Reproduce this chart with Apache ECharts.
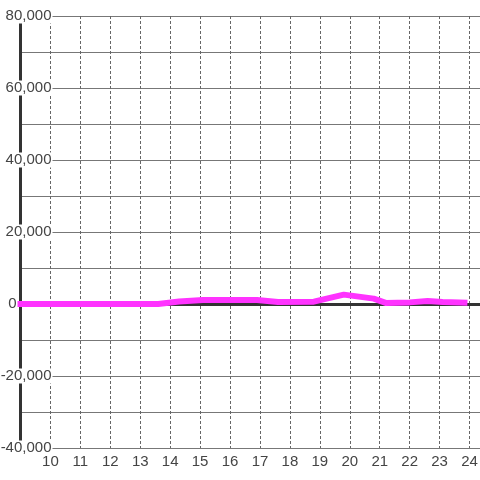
<!DOCTYPE html>
<html>
<head>
<meta charset="utf-8">
<script src="https://cdn.jsdelivr.net/npm/echarts@6/dist/echarts.min.js"></script>
<style>
  html, body { margin: 0; padding: 0; background: #fff; }
  #chart-container { width: 480px; height: 480px; }
</style>
</head>
<body>
<div id="chart-container"></div>
<script>
// values (x = hour, y = count)
const hours = [9, 10, 11, 12, 13, 13.6, 14.3, 15.1, 16, 16.9, 17.6, 18.8, 19.8, 20.8, 21.2, 22.0, 22.6, 23.1, 23.83];
const counts = [0, 0, 0, 0, 0, 0, 700, 1100, 1100, 1100, 550, 650, 2600, 1500, 300, 450, 850, 550, 350];

const xMin = 9;
const xMax = 24.35;
const yMin = -40000;
const yMax = 80000;
const yStep = 10000;
const yLabelStep = 20000;

const fontFamily = '"Liberation Sans", Arial, sans-serif';
const textColor = '#444';

const seriesData = hours.map(function (h, i) {
    return [h, counts[i]];
});

const chartDom = document.getElementById('chart-container');
const myChart = echarts.init(chartDom);

var option;

option = {
    animation: false,
    backgroundColor: '#fff',
    grid: {
        left: 20.5,
        right: 0,
        top: 16,
        bottom: 32,
        containLabel: false,
        outerBoundsMode: 'none'
    },
    xAxis: [
        {
            type: 'value',
            min: xMin,
            max: xMax,
            interval: 1,
            position: 'bottom',
            axisLine: {show: false, onZero: false},
            axisTick: {show: false},
            axisLabel: {
                margin: 6,
                fontSize: 15,
                color: textColor,
                fontFamily: fontFamily,
                showMinLabel: false,
                showMaxLabel: false
            },
            splitLine: {
                show: true,
                lineStyle: {color: '#666', width: 1, type: [3, 2]}
            }
        },
        {
            // zero line
            type: 'value',
            min: xMin,
            max: xMax,
            position: 'top',
            axisLine: {show: true, onZero: true, lineStyle: {color: '#333', width: 3}},
            axisTick: {show: false},
            axisLabel: {show: false},
            splitLine: {show: false}
        }
    ],
    yAxis: {
        type: 'value',
        min: yMin,
        max: yMax,
        interval: yStep,
        axisLine: {show: true, onZero: false, lineStyle: {color: '#333', width: 3}},
        axisTick: {show: false},
        axisLabel: {
            margin: -32,
            formatter: function (value) {
                if (value % yLabelStep !== 0) {
                    return '';
                }
                if (value === 0) {
                    return '{z|0}{g| }';
                }
                return '{b|' + value.toLocaleString('en-US') + '}';
            },
            rich: {
                b: {
                    fontSize: 15,
                    lineHeight: 16,
                    color: textColor,
                    fontFamily: fontFamily,
                    backgroundColor: '#fff',
                    padding: [0, 1, 0, 2]
                },
                z: {
                    fontSize: 15,
                    lineHeight: 16,
                    color: textColor,
                    fontFamily: fontFamily
                },
                g: {
                    width: 36,
                    fontSize: 15
                }
            }
        },
        splitLine: {
            show: true,
            lineStyle: {color: '#777', width: 1}
        }
    },
    series: [
        {
            type: 'line',
            xAxisIndex: 0,
            data: seriesData,
            showSymbol: false,
            silent: true,
            z: 5,
            lineStyle: {color: '#ff33ff', width: 6, cap: 'square', join: 'round'}
        }
    ]
};

option && myChart.setOption(option, true);
</script>
</body>
</html>
